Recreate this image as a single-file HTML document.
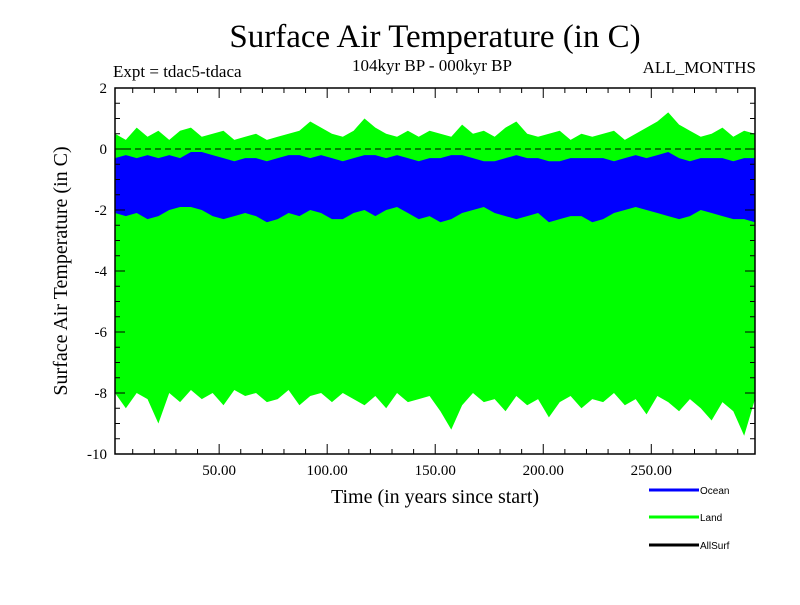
<!DOCTYPE html>
<html><head><meta charset="utf-8"><style>
body{margin:0;background:#fff}
svg text{font-family:"Liberation Serif",serif}
svg text.sans{font-family:"Liberation Sans",sans-serif}
</style></head><body>
<svg id="chart" width="800" height="600" viewBox="0 0 800 600" xmlns="http://www.w3.org/2000/svg">
<rect width="800" height="600" fill="#fff"/>
<text x="435" y="47" font-size="33" text-anchor="middle">Surface Air Temperature (in C)</text>
<text x="113" y="77" font-size="17">Expt = tdac5-tdaca</text>
<text x="432" y="71" font-size="17" text-anchor="middle">104kyr BP - 000kyr BP</text>
<text x="756" y="73" font-size="17" text-anchor="end">ALL_MONTHS</text>
<g id="plot"></g>
<g id="axes"></g>
<text transform="translate(67,271) rotate(-90)" font-size="20" text-anchor="middle">Surface Air Temperature (in C)</text>
<text x="435" y="503" font-size="20" text-anchor="middle">Time (in years since start)</text>
<g>
<line x1="649" y1="490" x2="699" y2="490" stroke="#0000ff" stroke-width="3"/>
<text class="sans" x="700" y="494" font-size="10">Ocean</text>
<line x1="649" y1="517" x2="699" y2="517" stroke="#00ff00" stroke-width="3"/>
<text class="sans" x="700" y="521" font-size="10">Land</text>
<line x1="649" y1="545" x2="699" y2="545" stroke="#000" stroke-width="3"/>
<text class="sans" x="700" y="549" font-size="10">AllSurf</text>
</g>
</svg>
<script>
const years = [];
const landMax = [0.5,0.3,0.7,0.4,0.6,0.3,0.6,0.7,0.4,0.5,0.6,0.3,0.4,0.5,0.3,0.4,0.5,0.6,0.9,0.7,0.5,0.4,0.6,1.0,0.7,0.5,0.4,0.6,0.4,0.6,0.5,0.4,0.8,0.5,0.6,0.4,0.7,0.9,0.5,0.4,0.5,0.6,0.3,0.5,0.4,0.5,0.6,0.3,0.5,0.7,0.9,1.2,0.8,0.6,0.4,0.5,0.7,0.4,0.6,0.5];
const landMin = [-8.0,-8.5,-8.0,-8.2,-9.0,-8.0,-8.3,-7.9,-8.2,-8.0,-8.4,-7.9,-8.1,-8.0,-8.3,-8.2,-7.9,-8.4,-8.1,-8.0,-8.3,-8.0,-8.2,-8.4,-8.1,-8.5,-8.0,-8.3,-8.2,-8.1,-8.6,-9.2,-8.4,-8.0,-8.3,-8.2,-8.6,-8.1,-8.4,-8.2,-8.8,-8.3,-8.1,-8.5,-8.2,-8.3,-8.0,-8.4,-8.2,-8.7,-8.1,-8.3,-8.6,-8.2,-8.5,-8.9,-8.3,-8.6,-9.4,-8.2];
const oceanMax = [-0.3,-0.2,-0.3,-0.2,-0.3,-0.2,-0.3,-0.1,-0.1,-0.2,-0.3,-0.4,-0.3,-0.3,-0.4,-0.3,-0.2,-0.2,-0.3,-0.2,-0.3,-0.4,-0.3,-0.2,-0.2,-0.3,-0.2,-0.3,-0.4,-0.3,-0.3,-0.2,-0.2,-0.3,-0.4,-0.4,-0.3,-0.2,-0.3,-0.3,-0.4,-0.4,-0.3,-0.3,-0.3,-0.3,-0.4,-0.3,-0.2,-0.3,-0.2,-0.1,-0.3,-0.4,-0.3,-0.3,-0.3,-0.4,-0.3,-0.3];
const oceanMin = [-2.1,-2.2,-2.1,-2.3,-2.2,-2.0,-1.9,-1.9,-2.0,-2.2,-2.3,-2.2,-2.1,-2.2,-2.4,-2.3,-2.1,-2.2,-2.0,-2.1,-2.3,-2.3,-2.1,-2.0,-2.2,-2.0,-1.9,-2.1,-2.3,-2.2,-2.4,-2.3,-2.1,-2.0,-1.9,-2.1,-2.2,-2.3,-2.2,-2.1,-2.4,-2.3,-2.2,-2.2,-2.4,-2.3,-2.1,-2.0,-1.9,-2.0,-2.1,-2.2,-2.3,-2.2,-2.0,-2.1,-2.2,-2.3,-2.3,-2.4];
const xTickValues = [50,100,150,200,250];
const xTickLabels = ["50.00","100.00","150.00","200.00","250.00"];
const yTickValues = [2,0,-2,-4,-6,-8,-10];
const yTickLabels = ["2","0","-2","-4","-6","-8","-10"];
const X0=1.8, X1=298, Y0=-10, Y1=2;
const L=115, R=755, T=88, B=454;
for (let i=0;i<landMax.length;i++) years.push(X0+(X1-X0)*i/(landMax.length-1));
const sx=v=>L+(v-X0)/(X1-X0)*(R-L);
const sy=v=>B-(v-Y0)/(Y1-Y0)*(B-T);
const NS="http://www.w3.org/2000/svg";
const plot=document.getElementById('plot'), axes=document.getElementById('axes');
function mk(t,a,p){const e=document.createElementNS(NS,t);for(const k in a)e.setAttribute(k,a[k]);p.appendChild(e);return e;}
function band(hi,lo,color,name){
  let pts=[];
  for(let i=0;i<hi.length;i++) pts.push(sx(years[i])+','+sy(hi[i]));
  for(let i=lo.length-1;i>=0;i--) pts.push(sx(years[i])+','+sy(lo[i]));
  const p=mk('polygon',{points:pts.join(' '),fill:color},plot);
  
  
}
band(landMax,landMin,'#00ff00','land-series');
band(oceanMax,oceanMin,'#0000ff','ocean-series');
const zl=mk('line',{x1:L,x2:R,y1:sy(0),y2:sy(0),stroke:'#000','stroke-dasharray':'6,4'},axes);


const fr=mk('rect',{x:L,y:T,width:R-L,height:B-T,fill:'none',stroke:'#000','stroke-width':1.5},axes);


for(let v=10;v<X1;v+=10){const x=sx(v),len=(v%50===0)?10:5;
  mk('line',{x1:x,x2:x,y1:B,y2:B-len,stroke:'#000'},axes);mk('line',{x1:x,x2:x,y1:T,y2:T+len,stroke:'#000'},axes);}
for(let v=-9.5;v<2;v+=0.5){const y=sy(v),len=(v%2===0)?10:5;
  mk('line',{x1:L,x2:L+len,y1:y,y2:y,stroke:'#000'},axes);mk('line',{x1:R,x2:R-len,y1:y,y2:y,stroke:'#000'},axes);}
xTickValues.forEach((v,i)=>{const t=mk('text',{x:sx(v),y:B+21,'font-size':15,'text-anchor':'middle'},axes);t.textContent=xTickLabels[i];
  
  });
yTickValues.forEach((v,i)=>{const t=mk('text',{x:L-8,y:sy(v)+5,'font-size':15,'text-anchor':'end'},axes);t.textContent=yTickLabels[i];
  
  });
</script>
</body></html>
